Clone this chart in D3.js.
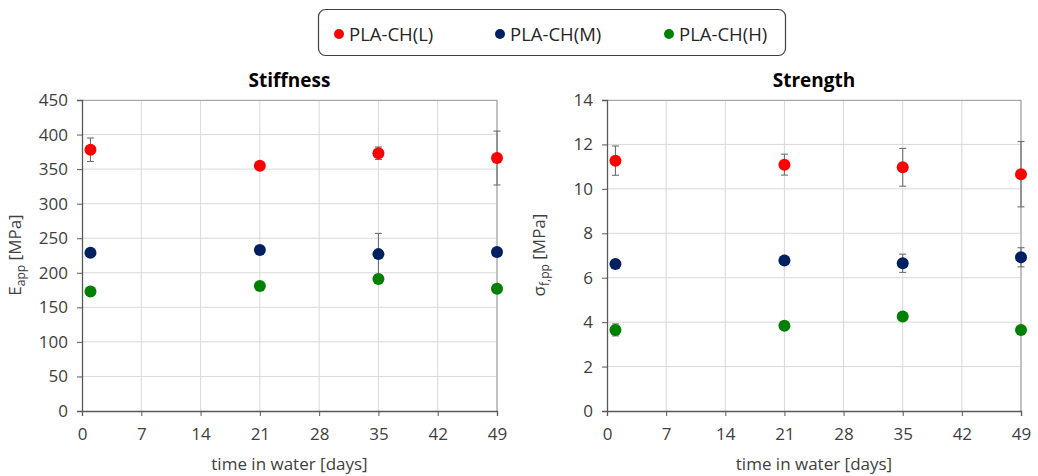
<!DOCTYPE html>
<html>
<head>
<meta charset="utf-8">
<script src="https://cdn.jsdelivr.net/npm/d3@7"></script>
<style>
  body { margin: 0; background: #fff; }
  svg { font-family: "Open Sans", sans-serif; }
</style>
</head>
<body>
<div id="chart"></div>
<script>
// ---- data ----
var days = [1, 21, 35, 49];
var seriesNames = ["PLA-CH(L)", "PLA-CH(M)", "PLA-CH(H)"];
var seriesColors = ["#ff0000", "#002060", "#008000"];
var dayTicks = [0, 7, 14, 21, 28, 35, 42, 49];

// stiffness E_app [MPa]
var stiffL = [378, 355, 373, 366];
var stiffM = [229, 233, 227, 230];
var stiffH = [173, 181, 191, 177];
var stiffLErr = [17, 3, 9, 39];
var stiffMErr = [3, 3, 30, 3];
var stiffHErr = [3, 3, 3, 3];
var stiffTicks = [0, 50, 100, 150, 200, 250, 300, 350, 400, 450];

// strength sigma [MPa]
var strL = [11.27, 11.09, 10.97, 10.66];
var strM = [6.62, 6.77, 6.65, 6.92];
var strH = [3.65, 3.84, 4.25, 3.65];
var strLErr = [0.66, 0.47, 0.85, 1.47];
var strMErr = [0.1, 0.1, 0.41, 0.43];
var strHErr = [0.27, 0.1, 0.1, 0.1];
var strTicks = [0, 2, 4, 6, 8, 10, 12, 14];

var width = 1038, height = 476;

var svg = d3.select("#chart").append("svg")
  .attr("width", width)
  .attr("height", height);

// ---- legend ----
var legend = svg.append("g");
legend.append("rect")
  .attr("x", 318.5).attr("y", 9.5)
  .attr("width", 467).attr("height", 46)
  .attr("rx", 7)
  .attr("fill", "#fff")
  .attr("stroke", "#404040")
  .attr("stroke-width", 1.2);

var legendX = [339, 500, 669];
seriesNames.forEach(function(name, i) {
  legend.append("circle")
    .attr("cx", legendX[i]).attr("cy", 34)
    .attr("r", 5)
    .attr("fill", seriesColors[i]);
  legend.append("text")
    .attr("x", legendX[i] + 10).attr("y", 40.5)
    .attr("font-size", 18.5)
    .attr("fill", "#262626")
    .text(name);
});

// ---- one panel ----
function drawPanel(opt) {
  var x = d3.scaleLinear().domain([0, 49]).range([opt.left, opt.right]);
  var y = d3.scaleLinear().domain([0, opt.ymax]).range([411, 100]);
  var g = svg.append("g");

  // grid
  g.selectAll(".hgrid").data(opt.yTicks.slice(1)).enter().append("line")
    .attr("x1", opt.left).attr("x2", opt.right)
    .attr("y1", function(d) { return y(d); })
    .attr("y2", function(d) { return y(d); })
    .attr("stroke", "#d9d9d9").attr("stroke-width", 1);
  g.selectAll(".vgrid").data(dayTicks.slice(1)).enter().append("line")
    .attr("y1", 100).attr("y2", 411)
    .attr("x1", function(d) { return x(d); })
    .attr("x2", function(d) { return x(d); })
    .attr("stroke", "#d9d9d9").attr("stroke-width", 1);

  // top + right border
  g.append("path")
    .attr("d", "M" + opt.left + ",100.5H" + opt.right + "V411")
    .attr("fill", "none")
    .attr("stroke", "#a6a6a6").attr("stroke-width", 1.2);

  // axes
  var yAxis = d3.axisLeft(y).tickValues(opt.yTicks).tickSize(5).tickPadding(9);
  var xAxis = d3.axisBottom(x).tickValues(dayTicks).tickSize(5).tickPadding(12);

  var ya = g.append("g").attr("transform", "translate(" + opt.left + ",0)").call(yAxis);
  var xa = g.append("g").attr("transform", "translate(0,411)").call(xAxis);
  [ya, xa].forEach(function(a) {
    a.select(".domain").attr("stroke", "#595959").attr("stroke-width", 1.3);
    a.selectAll(".tick line").attr("stroke", "#595959");
    a.selectAll(".tick text").attr("font-size", 17).attr("fill", "#404040")
      .attr("font-family", "'Open Sans', sans-serif");
  });

  // title
  g.append("text")
    .attr("x", (opt.left + opt.right) / 2).attr("y", 87)
    .attr("text-anchor", "middle")
    .attr("font-size", 19).attr("font-weight", "bold")
    .attr("fill", "#000")
    .text(opt.title);

  // x label
  g.append("text")
    .attr("x", (opt.left + opt.right) / 2).attr("y", 470)
    .attr("text-anchor", "middle")
    .attr("font-size", 17).attr("fill", "#404040")
    .text("time in water [days]");

  // y label
  var yl = g.append("text")
    .attr("transform", "translate(" + opt.ylabX + ",255) rotate(-90)")
    .attr("text-anchor", "middle")
    .attr("font-size", 17).attr("fill", "#404040");
  yl.append("tspan").text(opt.ylab[0]);
  yl.append("tspan").attr("font-size", 12).attr("dy", 4).text(opt.ylab[1]);
  yl.append("tspan").attr("dy", -4).text(" [MPa]");

  // error bars + points
  opt.series.forEach(function(s, si) {
    var pts = days.map(function(d, i) { return { d: d, v: s.vals[i], e: s.errs[i] }; });
    var eb = g.append("g").attr("stroke", "#6f6f6f").attr("stroke-width", 1.1);
    pts.forEach(function(p) {
      var cx = x(p.d);
      eb.append("line").attr("x1", cx).attr("x2", cx)
        .attr("y1", y(p.v - p.e)).attr("y2", y(p.v + p.e));
      [p.v - p.e, p.v + p.e].forEach(function(c) {
        eb.append("line").attr("x1", cx - 3.5).attr("x2", cx + 3.5)
          .attr("y1", y(c)).attr("y2", y(c));
      });
    });
    g.append("g").selectAll("circle").data(pts).enter().append("circle")
      .attr("cx", function(p) { return x(p.d); })
      .attr("cy", function(p) { return y(p.v); })
      .attr("r", 6)
      .attr("fill", seriesColors[si]);
  });
}

drawPanel({
  left: 82, right: 497, ymax: 450, yTicks: stiffTicks,
  title: "Stiffness", ylab: ["E", "app"], ylabX: 21,
  series: [
    { vals: stiffL, errs: stiffLErr },
    { vals: stiffM, errs: stiffMErr },
    { vals: stiffH, errs: stiffHErr }
  ]
});

drawPanel({
  left: 607, right: 1021, ymax: 14, yTicks: strTicks,
  title: "Strength", ylab: ["\u03c3", "f,pp"], ylabX: 545,
  series: [
    { vals: strL, errs: strLErr },
    { vals: strM, errs: strMErr },
    { vals: strH, errs: strHErr }
  ]
});
</script>
</body>
</html>
